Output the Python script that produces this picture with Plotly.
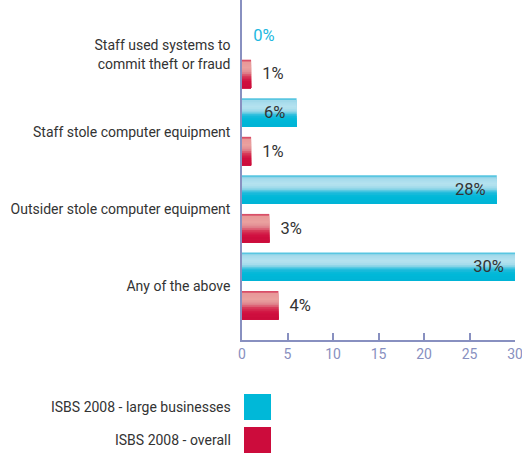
import plotly.graph_objects as go

categories = ["Staff used systems to<br>commit theft or fraud",
              "Staff stole computer equipment",
              "Outsider stole computer equipment",
              "Any of the above"]
large_businesses = [0, 6, 28, 30]
overall = [1, 1, 3, 4]
series_names = ["ISBS 2008 - large businesses", "ISBS 2008 - overall"]
x_ticks = [0, 5, 10, 15, 20, 25, 30]

AXIS = "#8890c0"
TXT = "#333333"
FONT = "Roboto, sans-serif"

cyan_stops = [(0.0, (44, 186, 220)), (0.08, (160, 216, 234)), (0.3, (182, 227, 240)),
              (0.45, (160, 218, 234)), (0.6, (34, 188, 220)), (0.75, (0, 184, 216)), (1.0, (0, 180, 214))]
red_stops = [(0.0, (208, 32, 74)), (0.08, (232, 152, 152)), (0.3, (234, 162, 160)),
             (0.45, (224, 136, 144)), (0.6, (216, 56, 88)), (0.75, (208, 16, 64)), (1.0, (204, 12, 60))]


def interp(stops, t):
    for (t0, c0), (t1, c1) in zip(stops, stops[1:]):
        if t0 <= t <= t1:
            f = 0 if t1 == t0 else (t - t0) / (t1 - t0)
            return "rgb(%d,%d,%d)" % tuple(round(a + (b - a) * f) for a, b in zip(c0, c1))
    return "rgb(%d,%d,%d)" % stops[-1][1]


pos = list(range(len(categories)))
bw = 0.37
N = 16
fig = go.Figure()

for vals, stops, off in [(large_businesses, cyan_stops, -0.435), (overall, red_stops, 0.065)]:
    for i in range(N):
        t = (i + 0.5) / N
        fig.add_trace(go.Bar(
            x=vals, y=pos, orientation="h",
            width=bw * (N - i) / N, offset=off + bw * i / N,
            marker=dict(color=interp(stops, t), line=dict(width=0)),
            hoverinfo="skip", showlegend=False))

NB = "\u00a0"
# value labels
fig.add_trace(go.Bar(
    x=large_businesses, y=pos, orientation="h", width=bw, offset=-0.435,
    marker=dict(color="rgba(0,0,0,0)", line=dict(width=0)),
    text=[("%s%d%%" % (NB * 2, v)) if v == 0 else ("%d%%%s" % (v, NB * 2)) for v in large_businesses],
    textposition=["outside" if v == 0 else "inside" for v in large_businesses],
    insidetextanchor="end",
    textfont=dict(size=16.5, family=FONT, color=["#22b8e0" if v == 0 else TXT for v in large_businesses]),
    cliponaxis=False, name=series_names[0], showlegend=False))
fig.add_trace(go.Bar(
    x=overall, y=pos, orientation="h", width=bw, offset=0.065,
    marker=dict(color="rgba(0,0,0,0)", line=dict(width=0)),
    text=["%s%d%%" % (NB * 2, v) for v in overall],
    textposition="outside",
    textfont=dict(size=16.5, family=FONT, color=TXT),
    cliponaxis=False, name=series_names[1], showlegend=False))

fig.update_layout(
    width=522, height=454, barmode="overlay",
    margin=dict(l=242, r=7, t=0, b=114),
    plot_bgcolor="white", paper_bgcolor="white",
    font=dict(family=FONT, color=TXT, size=14),
    xaxis=dict(range=[0, 30], tickvals=x_ticks, ticks="inside", ticklen=7, tickcolor=AXIS,
               tickwidth=1.5, showline=True, linecolor=AXIS, linewidth=1.5, showgrid=False,
               zeroline=False, ticklabeloverflow="allow", automargin=False,
               tickfont=dict(size=14, color=AXIS, family=FONT)),
    yaxis=dict(range=[3.70, -0.709], tickvals=pos, ticktext=categories, showline=True,
               linecolor=AXIS, linewidth=1.5, showgrid=False, zeroline=False, ticks="",
               ticklabelstandoff=7, automargin=False,
               tickfont=dict(size=14, color=TXT, family=FONT)),
)

# legend (drawn manually)
legend_colors = ["#00b8d8", "#cc0c3c"]
for k, (nm, col) in enumerate(zip(series_names, legend_colors)):
    top = 394 + 33 * k
    y0 = (340 - top - 26) / 340
    y1 = (340 - top) / 340
    fig.add_shape(type="rect", xref="paper", yref="paper",
                  x0=2 / 273, x1=29 / 273, y0=y0, y1=y1,
                  fillcolor=col, line=dict(width=0))
    fig.add_annotation(xref="paper", yref="paper", x=-9 / 273, y=(y0 + y1) / 2,
                       text=nm, showarrow=False, xanchor="right", yanchor="middle",
                       font=dict(size=14, color=TXT, family=FONT))

fig.write_html("out.html", config={"displayModeBar": False},
               post_script="document.body.style.margin='0';document.body.style.overflow='hidden';")
